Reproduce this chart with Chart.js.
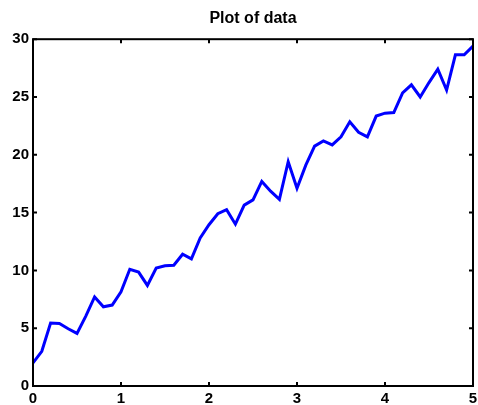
<!DOCTYPE html>
<html>
<head>
<meta charset="utf-8">
<script src="https://cdn.jsdelivr.net/npm/chart.js@4/dist/chart.umd.min.js"></script>
<style>
  html, body { margin: 0; padding: 0; background: #fff; }
  #wrap { width: 478px; height: 405px; }
</style>
</head>
<body>
<div id="wrap"><canvas id="myChart" width="478" height="405"></canvas></div>
<script>
const xValues = [0, 0.1, 0.2, 0.3, 0.4, 0.5, 0.6, 0.7, 0.8, 0.9,
  1, 1.1, 1.2, 1.3, 1.4, 1.5, 1.6, 1.7, 1.8, 1.9,
  2, 2.1, 2.2, 2.3, 2.4, 2.5, 2.6, 2.7, 2.8, 2.9,
  3, 3.1, 3.2, 3.3, 3.4, 3.5, 3.6, 3.7, 3.8, 3.9,
  4, 4.1, 4.2, 4.3, 4.4, 4.5, 4.6, 4.7, 4.8, 4.9, 5];
const yValues = [2.0, 3.0, 5.45, 5.4, 4.95, 4.55, 6.05, 7.7, 6.85, 7.0,
  8.15, 10.1, 9.85, 8.7, 10.2, 10.4, 10.45, 11.4, 11.0, 12.8,
  13.95, 14.9, 15.25, 14.0, 15.65, 16.1, 17.7, 16.85, 16.15, 19.4,
  17.1, 19.1, 20.75, 21.2, 20.85, 21.55, 22.85, 21.95, 21.55, 23.35,
  23.6, 23.65, 25.35, 26.05, 25.0, 26.25, 27.4, 25.6, 28.65, 28.65, 29.4];
const xTicks = [0, 1, 2, 3, 4, 5];
const yTicks = [0, 5, 10, 15, 20, 25, 30];

const points = xValues.map((x, i) => ({ x: x, y: yValues[i] }));

// box round the plot and small ticks pointing inward, like the original
const boxPlugin = {
  id: 'box',
  afterDraw(chart) {
    const ctx = chart.ctx;
    const a = chart.chartArea;
    const xs = chart.scales.x;
    const ys = chart.scales.y;
    const len = 4;
    ctx.save();
    ctx.strokeStyle = '#000';
    ctx.lineWidth = 2;
    ctx.strokeRect(a.left, a.top, a.right - a.left, a.bottom - a.top);
    ctx.beginPath();
    xTicks.forEach((v) => {
      const px = xs.getPixelForValue(v);
      ctx.moveTo(px, a.bottom); ctx.lineTo(px, a.bottom - len);
      ctx.moveTo(px, a.top); ctx.lineTo(px, a.top + len);
    });
    yTicks.forEach((v) => {
      const py = ys.getPixelForValue(v);
      ctx.moveTo(a.left, py); ctx.lineTo(a.left + len, py);
      ctx.moveTo(a.right, py); ctx.lineTo(a.right - len, py);
    });
    ctx.stroke();
    ctx.restore();
  }
};

const tickFont = { family: 'Liberation Sans, Arial, sans-serif', size: 15, weight: 'bold' };

new Chart('myChart', {
  type: 'line',
  data: {
    datasets: [{
      data: points,
      borderColor: '#0000ff',
      borderWidth: 3,
      pointRadius: 0,
      tension: 0,
      fill: false
    }]
  },
  options: {
    responsive: false,
    animation: false,
    layout: { padding: { left: 0, right: 5, top: 0, bottom: 0 } },
    plugins: {
      legend: { display: false },
      tooltip: { enabled: false },
      title: {
        display: true,
        text: 'Plot of data',
        color: '#000',
        fullSize: false,
        font: { family: 'Liberation Sans, Arial, sans-serif', size: 16, weight: 'bold' },
        padding: { top: 9, bottom: 11 }
      }
    },
    scales: {
      x: {
        type: 'linear',
        min: 0,
        max: 5,
        grid: { display: false, tickLength: 4 },
        border: { display: false },
        afterBuildTicks: (s) => { s.ticks = xTicks.map((v) => ({ value: v })); },
        afterFit: (s) => { s.height = 19; },
        ticks: { color: '#000', font: tickFont, padding: 0, maxRotation: 0 }
      },
      y: {
        min: 0,
        max: 30,
        grid: { display: false, tickLength: 2 },
        border: { display: false },
        afterBuildTicks: (s) => { s.ticks = yTicks.map((v) => ({ value: v })); },
        afterFit: (s) => { s.width = 33; },
        ticks: { color: '#000', font: tickFont, padding: 2 }
      }
    }
  },
  plugins: [boxPlugin]
});
</script>
</body>
</html>
